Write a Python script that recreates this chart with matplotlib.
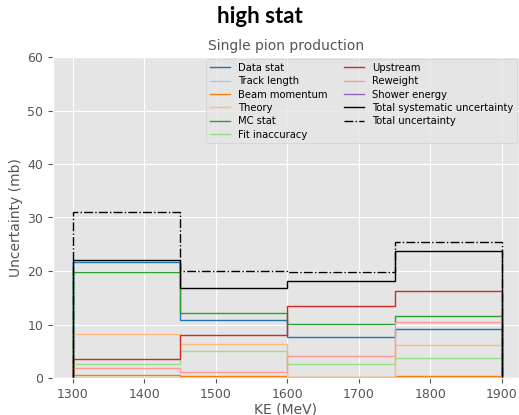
import numpy as np
import matplotlib.pyplot as plt

plt.style.use('ggplot')

# KE bin edges (MeV)
edges = np.array([1300, 1450, 1600, 1750, 1900])

# uncertainty per bin (mb)
data_stat = [21.7, 10.8, 7.7, 9.2]
track_length = [0.05, 0.05, 0.05, 0.05]
beam_momentum = [0.5, 0.3, 0.1, 0.4]
theory = [8.3, 6.4, 0.25, 6.1]
mc_stat = [19.8, 12.1, 10.1, 11.6]
fit_inaccuracy = [2.7, 5.0, 2.6, 3.7]
upstream = [3.5, 8.0, 13.5, 16.2]
reweight = [1.9, 1.1, 4.2, 10.4]
shower_energy = [0.05, 0.05, 0.05, 0.05]
total_sys = [22.0, 16.8, 18.2, 23.8]
total_unc = [31.0, 20.0, 19.9, 25.5]

series = [
    ('Data stat', data_stat, '#1f77b4', '-'),
    ('Track length', track_length, '#aec7e8', '-'),
    ('Beam momentum', beam_momentum, '#ff7f0e', '-'),
    ('Theory', theory, '#ffbb78', '-'),
    ('MC stat', mc_stat, '#2ca02c', '-'),
    ('Fit inaccuracy', fit_inaccuracy, '#98df8a', '-'),
    ('Upstream', upstream, '#d62728', '-'),
    ('Reweight', reweight, '#ff9896', '-'),
    ('Shower energy', shower_energy, '#9467bd', '-'),
    ('Total systematic uncertainty', total_sys, 'black', '-'),
    ('Total uncertainty', total_unc, 'black', '-.'),
]

fig = plt.figure(figsize=(5.19, 4.15), dpi=100)
ax = fig.add_axes([53 / 519, 37 / 415, 466 / 519, 321 / 415])

for label, vals, color, ls in series:
    ax.stairs(vals, edges, baseline=0, color=color, linestyle=ls, linewidth=1.0, label=label)

ax.set_xlim(1272, 1924)
ax.set_ylim(0, 60)
ax.set_xticks([1300, 1400, 1500, 1600, 1700, 1800, 1900])
ax.set_yticks([0, 10, 20, 30, 40, 50, 60])
ax.tick_params(labelsize=9)
ax.set_xlabel('KE (MeV)', fontsize=10, labelpad=1)
ax.set_ylabel('Uncertainty (mb)', fontsize=10, labelpad=3)
ax.set_title('Single pion production', fontsize=10, color='#555555', pad=5)
fig.suptitle('high stat', fontsize=16, fontweight='bold', family=['Lato', 'DejaVu Sans'], y=0.985)

ax.legend(loc='upper right', ncol=2, fontsize=7.2, borderaxespad=0.2,
          labelspacing=0.33, columnspacing=1.6, handlelength=2.0)

fig.savefig('out.png', dpi=100)
